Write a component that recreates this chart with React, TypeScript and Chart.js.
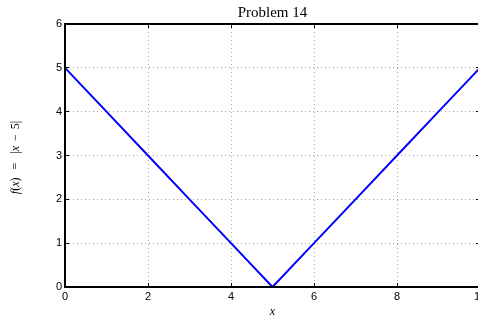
import React, { useEffect, useRef } from "react";
import { Chart, registerables } from "chart.js";

Chart.register(...registerables);

const xValues = [0, 1, 2, 3, 4, 5, 6, 7, 8, 9, 10];
const yValues = [5, 4, 3, 2, 1, 0, 1, 2, 3, 4, 5];
const xTicks = [0, 2, 4, 6, 8, 10];
const yTicks = [0, 1, 2, 3, 4, 5, 6];
const titleText = "Problem 14";
const xLabelText = "x";
// y label pieces: [text, italic, gapAfter]
const yLabelParts: [string, boolean, number][] = [
  ["f", true, 0],
  ["(", false, 0],
  ["x", true, 0],
  [")", false, 8],
  ["=", false, 9],
  ["|", false, 0],
  ["x", true, 5],
  ["\u2212", false, 5],
  ["5|", false, 0],
];

const SERIF = '"Liberation Serif", "Times New Roman", serif';
const SANS = '"Liberation Sans", Arial, sans-serif';

const matlabPlugin = {
  id: "matlabDecor",
  beforeDatasetsDraw(chart: any) {
    const { ctx, chartArea, scales } = chart;
    const xs = scales.x;
    const ys = scales.y;
    ctx.save();
    ctx.strokeStyle = "#a8a8a8";
    ctx.lineWidth = 1;
    ctx.setLineDash([1, 3]);
    xTicks.forEach((v) => {
      const px = Math.floor(xs.getPixelForValue(v)) + 0.5;
      ctx.beginPath();
      ctx.moveTo(px, chartArea.top);
      ctx.lineTo(px, chartArea.bottom);
      ctx.stroke();
    });
    yTicks.forEach((v) => {
      const py = Math.floor(ys.getPixelForValue(v)) + 0.5;
      ctx.beginPath();
      ctx.moveTo(chartArea.left, py);
      ctx.lineTo(chartArea.right, py);
      ctx.stroke();
    });
    ctx.restore();
  },
  afterDatasetsDraw(chart: any) {
    const { ctx, chartArea, scales } = chart;
    const xs = scales.x;
    const ys = scales.y;
    const { left, right, top, bottom } = chartArea;
    ctx.save();
    ctx.setLineDash([]);
    // inward tick marks
    ctx.strokeStyle = "#000";
    ctx.lineWidth = 1;
    const tl = 4;
    xTicks.forEach((v) => {
      const px = Math.floor(xs.getPixelForValue(v)) + 0.5;
      ctx.beginPath();
      ctx.moveTo(px, bottom);
      ctx.lineTo(px, bottom - tl);
      ctx.moveTo(px, top);
      ctx.lineTo(px, top + tl);
      ctx.stroke();
    });
    yTicks.forEach((v) => {
      const py = Math.floor(ys.getPixelForValue(v)) + 0.5;
      ctx.beginPath();
      ctx.moveTo(left, py);
      ctx.lineTo(left + tl, py);
      ctx.moveTo(right, py);
      ctx.lineTo(right - tl, py);
      ctx.stroke();
    });
    // box
    ctx.lineWidth = 2;
    ctx.strokeRect(left, top, right - left, bottom - top);

    // title
    ctx.fillStyle = "#000";
    ctx.font = `15px ${SERIF}`;
    ctx.textAlign = "center";
    ctx.textBaseline = "alphabetic";
    const cx = (left + right) / 2;
    ctx.fillText(titleText, cx, 17);

    // x label
    ctx.font = `italic 12px ${SERIF}`;
    ctx.fillText(xLabelText, cx, 315);

    // y label (rotated)
    ctx.save();
    const cy = (top + bottom) / 2 + 2;
    ctx.translate(19, cy);
    ctx.rotate(-Math.PI / 2);
    ctx.textAlign = "left";
    let total = 0;
    yLabelParts.forEach(([t, it, g]) => {
      ctx.font = `${it ? "italic " : ""}12px ${SERIF}`;
      total += ctx.measureText(t).width + g;
    });
    let x = -total / 2;
    yLabelParts.forEach(([t, it, g]) => {
      ctx.font = `${it ? "italic " : ""}12px ${SERIF}`;
      ctx.fillText(t, x, 0);
      x += ctx.measureText(t).width + g;
    });
    ctx.restore();
    ctx.restore();
  },
};

export default function App() {
  const ref = useRef<HTMLCanvasElement>(null);
  useEffect(() => {
    if (!ref.current) return;
    const chart = new Chart(ref.current, {
      type: "line",
      data: {
        datasets: [
          {
            data: xValues.map((x, i) => ({ x, y: yValues[i] })),
            borderColor: "#0000ff",
            borderWidth: 2,
            pointRadius: 0,
            fill: false,
            tension: 0,
          },
        ],
      },
      options: {
        animation: false,
        responsive: false,
        devicePixelRatio: 1,
        layout: { padding: { left: 0, right: 10, top: 24, bottom: 0 } },
        plugins: {
          legend: { display: false },
          tooltip: { enabled: false },
          title: { display: false },
        },
        scales: {
          x: {
            type: "linear",
            min: 0,
            max: 10,
            afterFit: (s: any) => {
              s.height = 33;
            },
            afterBuildTicks: (s: any) => {
              s.ticks = xTicks.map((v) => ({ value: v }));
            },
            grid: { display: false, drawTicks: false },
            border: { display: false },
            ticks: {
              autoSkip: false,
              maxRotation: 0,
              padding: 3,
              color: "#000",
              font: { family: SANS, size: 11 },
            },
          },
          y: {
            type: "linear",
            min: 0,
            max: 6,
            afterFit: (s: any) => {
              s.width = 65;
            },
            afterBuildTicks: (s: any) => {
              s.ticks = yTicks.map((v) => ({ value: v }));
            },
            grid: { display: false, drawTicks: false },
            border: { display: false },
            ticks: {
              autoSkip: false,
              padding: 3,
              color: "#000",
              font: { family: SANS, size: 11 },
            },
          },
        },
      },
      plugins: [matlabPlugin],
    });
    return () => chart.destroy();
  }, []);
  return (
    <div style={{ position: "fixed", left: 0, top: 0, width: 490, height: 320, background: "#fff" }}>
      <canvas ref={ref} width={490} height={320} style={{ display: "block" }} />
    </div>
  );
}
